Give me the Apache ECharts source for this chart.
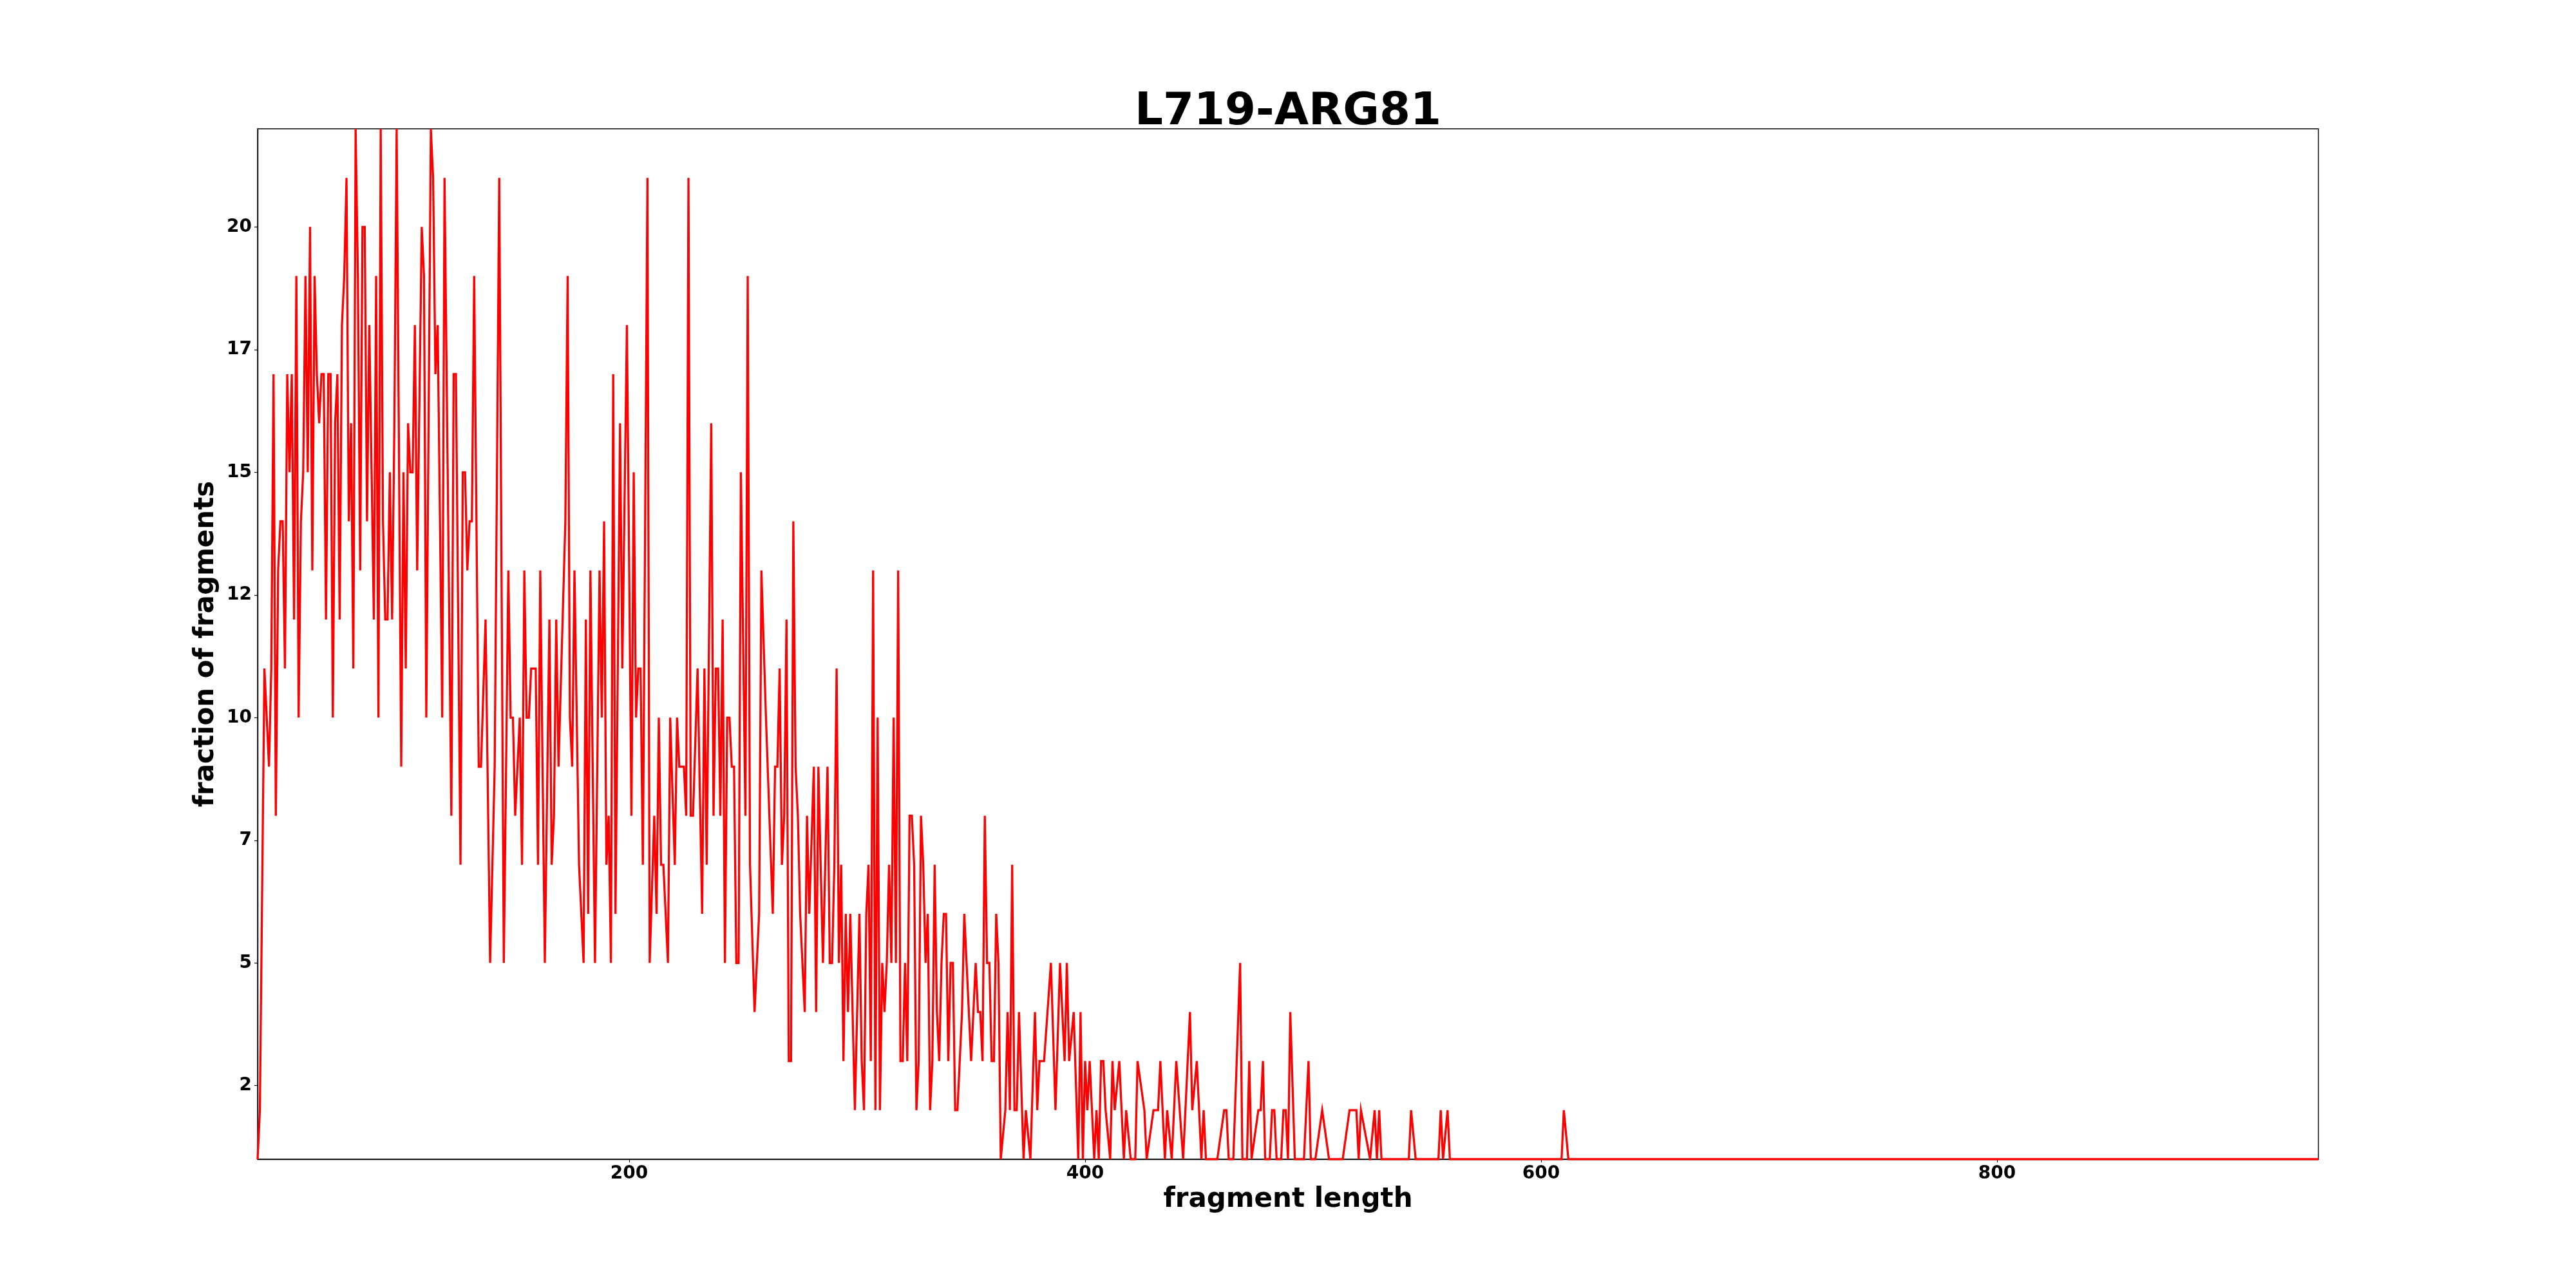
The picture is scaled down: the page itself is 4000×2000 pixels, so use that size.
<!DOCTYPE html>
<html>
<head>
<meta charset="utf-8">
<script src="https://cdn.jsdelivr.net/npm/echarts@6/dist/echarts.min.js"></script>
<style>
html,body{margin:0;padding:0;background:#fff;}
#chart{width:4000px;height:2000px;}
</style>
</head>
<body>
<div id="chart"></div>
<script>
// fragment lengths (x) and counts (y)
const lengths = [
37,38,40,42,43,44,45,46,47,48,49,50,51,52,53,54,55,56,57,58,59,60,61,62,63,64,65,66,67,68,69,70,
71,72,73,74,75,76,77,78,79,80,81,82,83,84,85,86,87,88,89,90,91,92,93,94,95,96,97,98,100,101,102,
103,104,105,106,107,109,110,111,113,114,115,116,118,119,122,123,124,126,127,128,129,130,131,132,
134,135,137,139,141,143,145,147,148,149,150,152,153,154,155,156,157,158,159,160,161,163,165,166,
167,168,169,172,173,174,175,176,178,180,181,182,183,185,187,188,189,190,191,192,193,194,196,197,
199,201,202,203,204,205,206,208,209,211,212,213,214,215,217,218,220,221,222,223,224,225,226,227,
228,230,232,233,234,236,237,238,239,240,241,242,243,244,245,246,247,248,249,251,252,253,255,257,
258,260,263,264,265,266,267,
268,269,270,271,272,273,274,275,277,278,279,281,282,283,285,287,288,289,290,291,292,293,294,295,
296,297,299,301,302,303,304,305,306,307,308,309,310,311,312,313,314,315,316,317,318,319,320,321,
322,323,324,325,326,327,328,329,330,331,332,333,334,335,336,337,338,339,340,341,342,343,344,346,
347,350,352,353,354,355,356,357,358,359,360,361,362,363,365,366,367,368,369,370,371,373,374,376,
378,379,380,381,382,385,387,389,391,392,393,395,397,398,399,400,401,402,404,405,406,407,408,409,
411,412,413,415,417,418,420,421,422,423,426,427,430,431,432,433,435,436,438,440,443,446,447,449,
451,452,453,458,461,462,463,465,468,469,471,472,473,476,477,478,479,481,482,483,484,486,487,488,
489,490,492,
496,498,499,501,504,507,513,516,519,520,521,525,527,528,529,530,542,543,545,555,556,557,559,560,
609,610,612,941
];
const counts = [
1,2,11,9,11,17,8,13,14,14,11,17,15,17,12,19,10,14,15,19,15,20,13,19,17,16,17,17,12,17,17,10,
16,17,12,18,19,21,14,16,11,22,19,13,20,20,14,18,15,12,19,10,22,14,12,12,15,12,16,22,9,15,11,
16,15,15,18,13,20,19,10,22,21,17,18,10,21,8,17,17,7,15,15,13,14,14,19,
9,9,12,5,9,21,5,13,10,10,8,10,7,13,10,10,11,11,11,7,13,5,12,7,
8,12,9,14,19,10,9,13,7,5,12,6,13,5,13,10,14,7,8,5,17,6,16,11,
18,8,15,10,11,11,7,21,5,8,6,10,7,7,5,10,7,10,9,9,9,8,21,8,
8,11,6,11,7,16,8,11,11,8,12,5,10,10,9,9,5,5,15,8,19,7,4,6,
13,10,6,9,9,11,7,
8,12,3,3,14,9,8,6,4,8,6,9,4,9,5,9,5,5,7,11,5,7,3,6,
4,6,2,6,3,2,6,7,3,13,2,10,2,5,4,5,7,5,10,5,13,3,3,5,
3,8,8,7,2,3,8,7,5,6,2,3,7,4,3,5,6,6,3,5,5,2,2,4,
6,3,5,4,4,3,8,5,5,3,3,6,5,1,2,4,2,7,2,2,4,1,2,1,
4,2,3,3,3,5,2,5,3,5,3,4,1,4,1,3,2,3,1,2,1,3,3,2,
1,3,2,3,1,2,1,1,1,3,2,1,2,2,2,3,1,2,1,3,1,4,2,3,
1,2,1,1,2,2,1,1,5,1,1,3,1,2,2,3,1,1,2,2,1,1,2,2,
1,4,1,
1,3,1,1,2,1,1,2,2,1,2,1,2,1,2,1,1,2,1,1,2,1,2,1,
1,2,1,1
];
const xTicks = [200, 400, 600, 800];
const yTicks = [2.5, 5, 7.5, 10, 12.5, 15, 17.5, 20];
const titleText = 'L719-ARG81';
const xName = 'fragment length';
const yName = 'fraction of fragments';

const seriesData = lengths.map((x, i) => [x, counts[i]]);
const FONT = 'DejaVu Sans';

const chart = echarts.init(document.getElementById('chart'), null, {renderer: 'canvas'});
chart.setOption({
  animation: false,
  backgroundColor: '#ffffff',
  title: {
    text: titleText,
    left: 'center',
    top: 136,
    textStyle: {fontFamily: FONT, fontWeight: 'bold', fontSize: 69, color: '#000'}
  },
  grid: {
    left: 400, right: 400, top: 200, bottom: 200,
    show: true, borderColor: '#000', borderWidth: 1.4, backgroundColor: 'transparent'
  },
  xAxis: {
    type: 'value',
    min: 37, max: 941,
    name: xName,
    nameLocation: 'middle',
    nameGap: 37,
    nameTextStyle: {fontFamily: FONT, fontWeight: 'bold', fontSize: 42, color: '#000'},
    axisLine: {show: true, onZero: false, lineStyle: {color: '#000', width: 1.4}},
    axisTick: {show: true, inside: false, length: 5, customValues: xTicks, lineStyle: {color: '#000', width: 1.2}},
    axisLabel: {show: true, margin: 9, customValues: xTicks, fontFamily: FONT, fontWeight: 'bold', fontSize: 28, color: '#000'},
    splitLine: {show: false}
  },
  yAxis: {
    type: 'value',
    min: 1, max: 22,
    name: yName,
    nameLocation: 'middle',
    nameRotate: 90,
    nameGap: 44,
    nameTextStyle: {fontFamily: FONT, fontWeight: 'bold', fontSize: 42, color: '#000'},
    axisLine: {show: true, onZero: false, lineStyle: {color: '#000', width: 1.4}},
    axisTick: {show: true, inside: false, length: 5, customValues: yTicks, lineStyle: {color: '#000', width: 1.2}},
    axisLabel: {
      show: true, margin: 9, customValues: yTicks,
      fontFamily: FONT, fontWeight: 'bold', fontSize: 28, color: '#000',
      formatter: v => String(Math.floor(v))
    },
    splitLine: {show: false}
  },
  series: [{
    type: 'line',
    data: seriesData,
    showSymbol: false,
    symbol: 'none',
    clip: true,
    lineStyle: {color: '#ff0000', width: 3.3, join: 'miter'},
    itemStyle: {color: '#ff0000'}
  }]
});
</script>
</body>
</html>
